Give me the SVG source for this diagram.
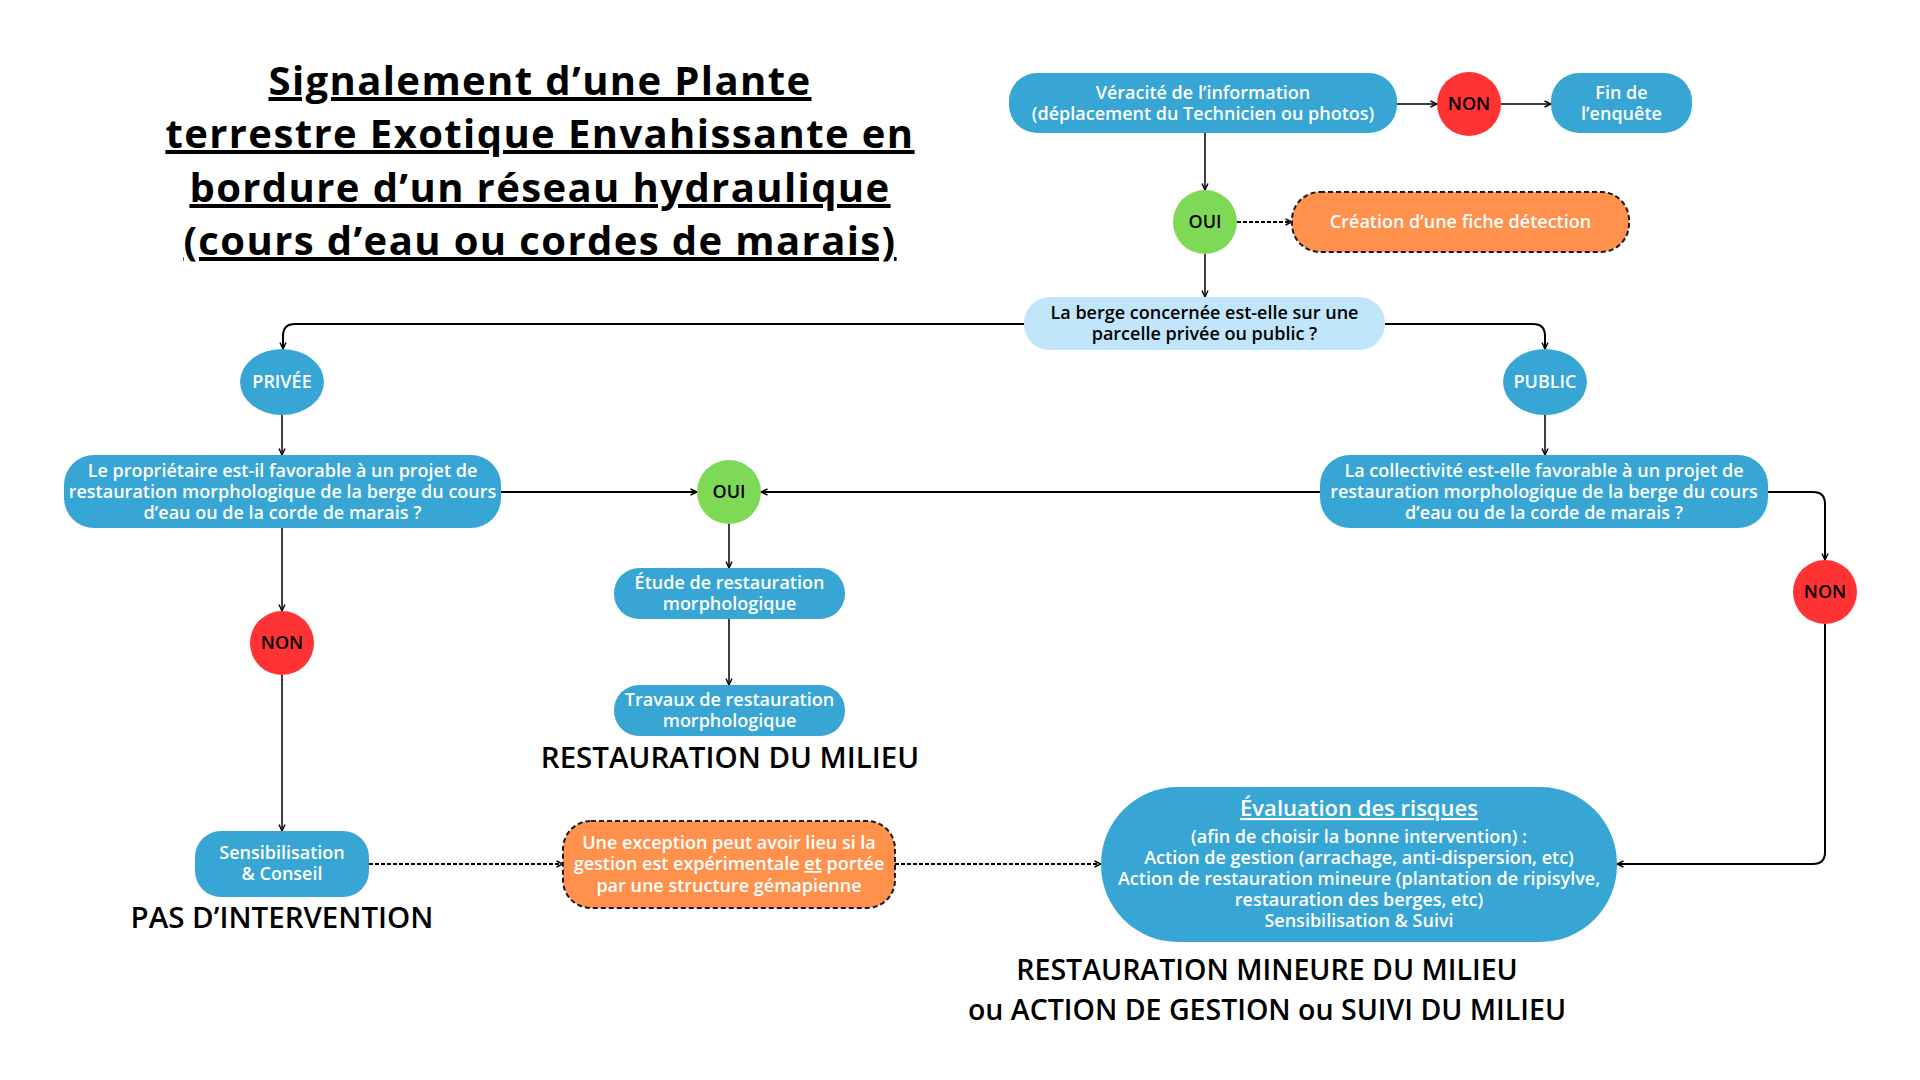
<svg xmlns="http://www.w3.org/2000/svg" width="1920" height="1080" viewBox="0 0 1920 1080">
<style>
.bg{fill:#ffffff}
.blue{fill:#37A6D5}
.lblue{fill:#C1E5FB}
.red{fill:#FF3333}
.green{fill:#7ED957}
.orange{fill:#FF914D;stroke:#1a1a1a;stroke-width:2;stroke-dasharray:5 3}
.t{font-family:"Open Sans","Lato",sans-serif;font-weight:600;font-size:18px;text-anchor:middle}
.w{fill:#ffffff}
.k{fill:#000000}
.title{font-family:"Open Sans","Lato",sans-serif;font-weight:700;font-size:40px;letter-spacing:1.4px;text-anchor:middle;fill:#000;text-decoration:underline}
.big{font-family:"Open Sans","Lato",sans-serif;font-weight:600;font-size:29.5px;text-anchor:middle;fill:#000}
.c{fill:none;stroke:#000;stroke-width:1.5}
.c2{fill:none;stroke:#000;stroke-width:2}
.d{fill:none;stroke:#000;stroke-width:1.8;stroke-dasharray:4 2}
</style>
<defs>
<marker id="ah" viewBox="0 0 8 8" refX="7.5" refY="4" markerWidth="8" markerHeight="8" markerUnits="userSpaceOnUse" orient="auto">
<path d="M1,1 L7.5,4 L1,7" fill="none" stroke="#000" stroke-width="1.4"/>
</marker>
</defs>
<rect class="bg" x="0" y="0" width="1920" height="1080"/>

<g id="title">
<text class="title" x="540" y="95">Signalement d’une Plante</text>
<text class="title" x="540" y="148">terrestre Exotique Envahissante en</text>
<text class="title" x="540" y="202">bordure d’un réseau hydraulique</text>
<text class="title" x="540" y="255">(cours d’eau ou cordes de marais)</text>
</g>

<g id="connectors">
<path class="c" d="M1397,104 H1437" marker-end="url(#ah)"/>
<path class="c" d="M1501,104 H1551" marker-end="url(#ah)"/>
<path class="c" d="M1205,133 V190" marker-end="url(#ah)"/>
<path class="d" d="M1237,222 H1292" marker-end="url(#ah)"/>
<path class="c" d="M1205,254 V297" marker-end="url(#ah)"/>
<path class="c2" d="M1024,324 H295 Q283,324 283,336 V349" marker-end="url(#ah)"/>
<path class="c2" d="M1385,324 H1533 Q1545,324 1545,336 V349" marker-end="url(#ah)"/>
<path class="c" d="M282,415 V455" marker-end="url(#ah)"/>
<path class="c" d="M1545,415 V455" marker-end="url(#ah)"/>
<path class="c2" d="M501,492 H697" marker-end="url(#ah)"/>
<path class="c2" d="M1320,492 H761" marker-end="url(#ah)"/>
<path class="c2" d="M1768,492 H1813 Q1825,492 1825,504 V560" marker-end="url(#ah)"/>
<path class="c" d="M729,524 V568" marker-end="url(#ah)"/>
<path class="c" d="M729,619 V685" marker-end="url(#ah)"/>
<path class="c" d="M282,528 V611" marker-end="url(#ah)"/>
<path class="c" d="M282,675 V831" marker-end="url(#ah)"/>
<path class="d" d="M369,864 H563" marker-end="url(#ah)"/>
<path class="d" d="M895,864 H1101" marker-end="url(#ah)"/>
<path class="c2" d="M1825,624 V852 Q1825,864 1813,864 H1617" marker-end="url(#ah)"/>
</g>

<g id="veracite">
<rect class="blue" x="1009" y="73" width="388" height="60" rx="28"/>
<text class="t w" x="1203" y="99">Véracité de l’information</text>
<text class="t w" x="1203" y="120">(déplacement du Technicien ou photos)</text>
</g>
<g id="non-top">
<circle class="red" cx="1469" cy="104" r="32"/>
<text class="t k" x="1469" y="110">NON</text>
</g>
<g id="fin">
<rect class="blue" x="1551" y="73" width="141" height="60" rx="28"/>
<text class="t w" x="1621.5" y="99">Fin de</text>
<text class="t w" x="1621.5" y="120">l’enquête</text>
</g>
<g id="oui-top">
<circle class="green" cx="1205" cy="222" r="32"/>
<text class="t k" x="1205" y="228">OUI</text>
</g>
<g id="creation">
<rect class="orange" x="1292" y="192" width="337" height="60" rx="28"/>
<text class="t w" x="1460.5" y="228">Création d’une fiche détection</text>
</g>
<g id="berge">
<rect class="lblue" x="1024" y="297" width="361" height="53" rx="26"/>
<text class="t k" x="1204.5" y="319">La berge concernée est-elle sur une</text>
<text class="t k" x="1204.5" y="340">parcelle privée ou public ?</text>
</g>
<g id="privee">
<ellipse class="blue" cx="282" cy="382" rx="42" ry="33"/>
<text class="t w" x="282" y="388">PRIVÉE</text>
</g>
<g id="public">
<ellipse class="blue" cx="1545" cy="382" rx="42" ry="33"/>
<text class="t w" x="1545" y="388">PUBLIC</text>
</g>
<g id="proprietaire">
<rect class="blue" x="64" y="455" width="437" height="73" rx="30"/>
<text class="t w" x="282.5" y="477">Le propriétaire est-il favorable à un projet de</text>
<text class="t w" x="282.5" y="498">restauration morphologique de la berge du cours</text>
<text class="t w" x="282.5" y="519">d’eau ou de la corde de marais ?</text>
</g>
<g id="oui-mid">
<circle class="green" cx="729" cy="492" r="32"/>
<text class="t k" x="729" y="498">OUI</text>
</g>
<g id="collectivite">
<rect class="blue" x="1320" y="455" width="448" height="73" rx="30"/>
<text class="t w" x="1544" y="477">La collectivité est-elle favorable à un projet de</text>
<text class="t w" x="1544" y="498">restauration morphologique de la berge du cours</text>
<text class="t w" x="1544" y="519">d’eau ou de la corde de marais ?</text>
</g>
<g id="non-right">
<circle class="red" cx="1825" cy="592" r="32"/>
<text class="t k" x="1825" y="598">NON</text>
</g>
<g id="etude">
<rect class="blue" x="614" y="568" width="231" height="51" rx="25"/>
<text class="t w" x="729.5" y="589">Étude de restauration</text>
<text class="t w" x="729.5" y="610">morphologique</text>
</g>
<g id="travaux">
<rect class="blue" x="614" y="685" width="231" height="51" rx="25"/>
<text class="t w" x="729.5" y="706">Travaux de restauration</text>
<text class="t w" x="729.5" y="727">morphologique</text>
</g>
<g id="label-restauration">
<text class="big" x="730" y="768">RESTAURATION DU MILIEU</text>
</g>
<g id="non-left">
<circle class="red" cx="282" cy="643" r="32"/>
<text class="t k" x="282" y="649">NON</text>
</g>
<g id="sensibilisation">
<rect class="blue" x="195" y="831" width="174" height="66" rx="26"/>
<text class="t w" x="282" y="859">Sensibilisation</text>
<text class="t w" x="282" y="880">&amp; Conseil</text>
</g>
<g id="label-pas">
<text class="big" x="282" y="928">PAS D’INTERVENTION</text>
</g>
<g id="exception">
<rect class="orange" x="563" y="821" width="332" height="87" rx="28"/>
<text class="t w" x="729" y="849">Une exception peut avoir lieu si la</text>
<text class="t w" x="729" y="870">gestion est expérimentale <tspan text-decoration="underline">et</tspan> portée</text>
<text class="t w" x="729" y="892">par une structure gémapienne</text>
</g>
<g id="evaluation">
<rect class="blue" x="1101" y="787" width="516" height="155" rx="77"/>
<text class="t w" x="1359" y="816" style="font-size:22px;text-decoration:underline">Évaluation des risques</text>
<text class="t w" x="1359" y="843">(afin de choisir la bonne intervention) :</text>
<text class="t w" x="1359" y="864">Action de gestion (arrachage, anti-dispersion, etc)</text>
<text class="t w" x="1359" y="885">Action de restauration mineure (plantation de ripisylve,</text>
<text class="t w" x="1359" y="906">restauration des berges, etc)</text>
<text class="t w" x="1359" y="927">Sensibilisation &amp; Suivi</text>
</g>
<g id="label-mineure">
<text class="big" x="1267" y="980" style="font-size:28.5px">RESTAURATION MINEURE DU MILIEU</text>
<text class="big" x="1267" y="1020" style="font-size:28.5px">ou ACTION DE GESTION ou SUIVI DU MILIEU</text>
</g>
</svg>
